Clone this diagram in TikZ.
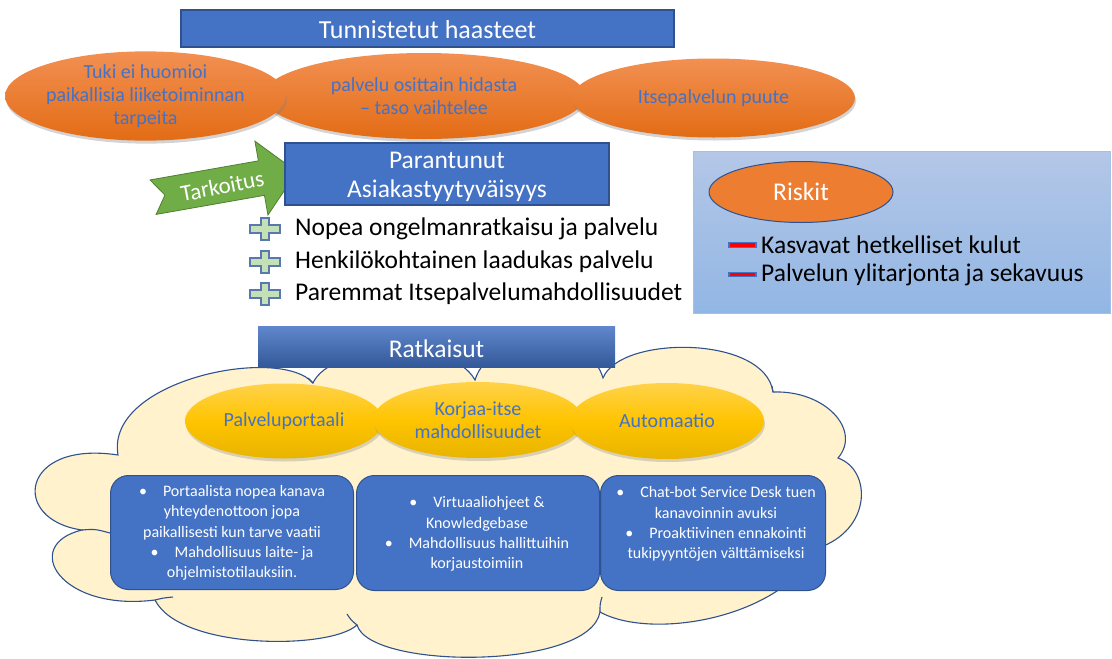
\documentclass[tikz,border=0pt]{standalone}
\usepackage{fontspec}
\setmainfont{Carlito}
\usepackage{tikz}
\usetikzlibrary{shapes.geometric,shadows,positioning}

\definecolor{ppBlue}{HTML}{4472C4}
\definecolor{ppBlueDark}{HTML}{2F528F}
\definecolor{ppOrange}{HTML}{ED7D31}
\definecolor{ppOrangeTop}{HTML}{F29052}
\definecolor{ppOrangeBot}{HTML}{E36C15}
\definecolor{ppGoldTop}{HTML}{FFD24A}
\definecolor{ppGoldMid}{HTML}{FFC400}
\definecolor{ppGoldBot}{HTML}{E8B400}
\definecolor{ppCream}{HTML}{FFF2CC}
\definecolor{ppGreen}{HTML}{70AD47}
\definecolor{ppGreenDark}{HTML}{507E32}
\definecolor{ppPlus}{HTML}{C5E0B4}
\definecolor{ppPlusLine}{HTML}{5A78B0}
\definecolor{ppSkyTop}{HTML}{B4C7E7}
\definecolor{ppSkyBot}{HTML}{92B6E4}
\definecolor{ppSkyLine}{HTML}{9DC3E6}

\newcommand{\isoteksti}{\fontsize{25.5}{29}\selectfont}
\newcommand{\pienteksti}{\fontsize{20}{23}\selectfont}
\newcommand{\laatikkoteksti}{\fontsize{16}{20.2}\selectfont}

\begin{document}
\begin{tikzpicture}[x=1pt,y=-1pt,
    otsikko/.style={rectangle, draw=ppBlueDark, line width=1.2pt, fill=ppBlue, text=white, font=\isoteksti, inner sep=0pt, align=center},
    otsikkoteksti/.style={text=white, font=\isoteksti, inner sep=0pt, align=center},
    haaste/.style={ellipse, top color=ppOrangeTop, bottom color=ppOrangeBot, draw=none, text=ppBlue, font=\pienteksti, align=center, inner sep=0pt,
        drop shadow={opacity=0.35, shadow xshift=1pt, shadow yshift=-3pt}},
    ratkaisu/.style={ellipse, top color=ppGoldTop, bottom color=ppGoldBot, middle color=ppGoldMid, draw=none, text=ppBlue, font=\pienteksti, align=center, inner sep=0pt,
        drop shadow={opacity=0.3, shadow xshift=1pt, shadow yshift=-3pt}},
    kuvaus/.style={rectangle, rounded corners=18pt, draw=ppBlueDark, line width=1pt, fill=ppBlue, inner sep=0pt, anchor=north west},
    kuvausteksti/.style={font=\laatikkoteksti, text=white, align=center, inner sep=0pt},
    hyoty/.style={font=\isoteksti, text=black, anchor=west, inner sep=0pt},
    plusmerkki/.style={draw=ppPlusLine, fill=ppPlus, line width=1.3pt},
    riskiviiva/.style={draw=ppBlue, fill=red, line width=1.2pt},
    pilvi/.style={draw=ppBlueDark, fill=ppCream, line width=1.1pt},
]
\useasboundingbox (0,0) rectangle (1112,659);

% haasteet
\node[otsikko, minimum width=493, minimum height=37] (tunnistetut) at (427.5,28.5) {};
\node[otsikkoteksti, font=\fontsize{26}{30}\selectfont] (tunnistetutteksti) at (427.5,30) {Tunnistetut haasteet};
\node[haaste, minimum width=322, minimum height=86] (haaste2) at (424,96) {palvelu osittain hidasta\\– taso vaihtelee};
\node[haaste, minimum width=273, minimum height=78] (haaste1) at (145.5,96) {Tuki ei huomioi\\paikallisia liiketoiminnan\\tarpeita};
\node[haaste, minimum width=283, minimum height=79] (haaste3) at (713.5,98) {Itsepalvelun puute};

% tarkoitus
\begin{scope}[shift={(225,184.5)}, rotate=10]
  \draw[fill=ppGreen, draw=ppGreenDark, line width=0.8pt]
    (-73,-17.5) -- (37,-17.5) -- (37,-37.5) -- (73,0) -- (37,37.5) -- (37,17.5) -- (-73,17.5) -- (-61,0) -- cycle;
  \node[text=white, font=\fontsize{23}{26}\selectfont, rotate=11] (tarkoitus) at (-3,1) {Tarkoitus};
\end{scope}
\node[otsikko, minimum width=324, minimum height=62] (parantunut) at (447,174) {};
\node[otsikkoteksti] (parantunutteksti) at (447,177) {Parantunut\\Asiakastyytyväisyys};

% hyodyt
\foreach \yy/\nimi/\teksti in {229/hyoty1/Nopea ongelmanratkaisu ja palvelu,
                               262/hyoty2/Henkilökohtainen laadukas palvelu,
                               294/hyoty3/Paremmat Itsepalvelumahdollisuudet}{
  \draw[plusmerkki, shift={(265,\yy)}] (-15,-4) -- (-4,-4) -- (-4,-11) -- (4,-11) -- (4,-4) -- (15,-4)
      -- (15,4) -- (4,4) -- (4,11) -- (-4,11) -- (-4,4) -- (-15,4) -- cycle;
  \node[hyoty] (\nimi) at (295,\yy) {\teksti};
}

% riskit
\node[rectangle, draw=ppSkyLine, line width=1pt, top color=ppSkyTop, bottom color=ppSkyBot, minimum width=417, minimum height=162, inner sep=0pt] (riskilaatikko) at (901.5,232) {};
\node[ellipse, fill=ppOrange, draw=ppBlueDark, line width=1pt, minimum width=184, minimum height=61, inner sep=0pt, text=white, font=\isoteksti] (riskit) at (801,192) {Riskit};
\foreach \yy/\nimi/\teksti in {245/riski1/Kasvavat hetkelliset kulut, 274.5/riski2/Palvelun ylitarjonta ja sekavuus}{
  \draw[riskiviiva] (729,\yy-2.2) rectangle (756,\yy+2.2);
  \node[hyoty] (\nimi) at (761,\yy) {\teksti};
}

% ratkaisut pilvi
\draw[pilvi] (118,455)
  .. controls (105,380) and (280,345) .. (313,383)
  .. controls (330,345) and (450,335) .. (475,380)
  .. controls (490,330) and (590,330) .. (603,378)
  .. controls (620,335) and (765,335) .. (773,392)
  .. controls (825,390) and (862,430) .. (838,458)
  .. controls (872,470) and (872,530) .. (818,548)
  .. controls (780,620) and (650,640) .. (600,612)
  .. controls (590,670) and (370,670) .. (357,625)
  .. controls (330,650) and (180,650) .. (155,600)
  .. controls (60,612) and (20,545) .. (82,530)
  .. controls (10,520) and (20,440) .. (118,455) -- cycle;
\draw[pilvi, fill=none] (82,530) .. controls (95,529) .. (110,533);
\draw[pilvi, fill=none] (155,600) .. controls (163,598) .. (173,597);
\draw[pilvi, fill=none] (357,625) .. controls (351,620) .. (347,614);
\draw[pilvi, fill=none] (600,612) .. controls (600,604) .. (602,597);
\draw[pilvi, fill=none] (773,392) .. controls (773,389) .. (772,386);
\draw[pilvi, fill=none] (313,383) .. controls (311,380) .. (308,378);

\node[otsikko, draw=none, top color=ppBlue!85!white, bottom color=ppBlueDark!80!ppBlue, minimum width=357, minimum height=41] (ratkaisut) at (436.5,346.5) {};
\node[otsikkoteksti] (ratkaisutteksti) at (436.5,348.5) {Ratkaisut};

\node[ratkaisu, minimum width=198, minimum height=75] (portaali) at (284,421) {Palveluportaali};
\node[ratkaisu, minimum width=210, minimum height=76] (korjaa) at (478,420) {Korjaa-itse\\mahdollisuudet};
\node[ratkaisu, minimum width=194, minimum height=76] (automaatio) at (667,421) {Automaatio};

\node[kuvaus, minimum width=243, minimum height=114] (laatikko1) at (110,475) {};
\node[kuvausteksti] (teksti1) at (232,533)
  {\textbullet\quad Portaalista nopea kanava\\ yhteydenottoon jopa\\paikallisesti kun tarve vaatii\\\textbullet\quad Mahdollisuus laite- ja\\ ohjelmistotilauksiin.};
\node[kuvaus, minimum width=243, minimum height=115] (laatikko2) at (356,475) {};
\node[kuvausteksti] (teksti2) at (477,534)
  {\textbullet\quad Virtuaaliohjeet \&\\Knowledgebase\\\textbullet\quad Mahdollisuus hallittuihin\\korjaustoimiin};
\node[kuvaus, minimum width=225, minimum height=115] (laatikko3) at (600,475) {};
\node[kuvausteksti] (teksti3) at (716,524)
  {\textbullet\quad Chat-bot Service Desk tuen\\kanavoinnin avuksi\\\textbullet\quad Proaktiivinen ennakointi\\tukipyyntöjen välttämiseksi};
\end{tikzpicture}
\end{document}
